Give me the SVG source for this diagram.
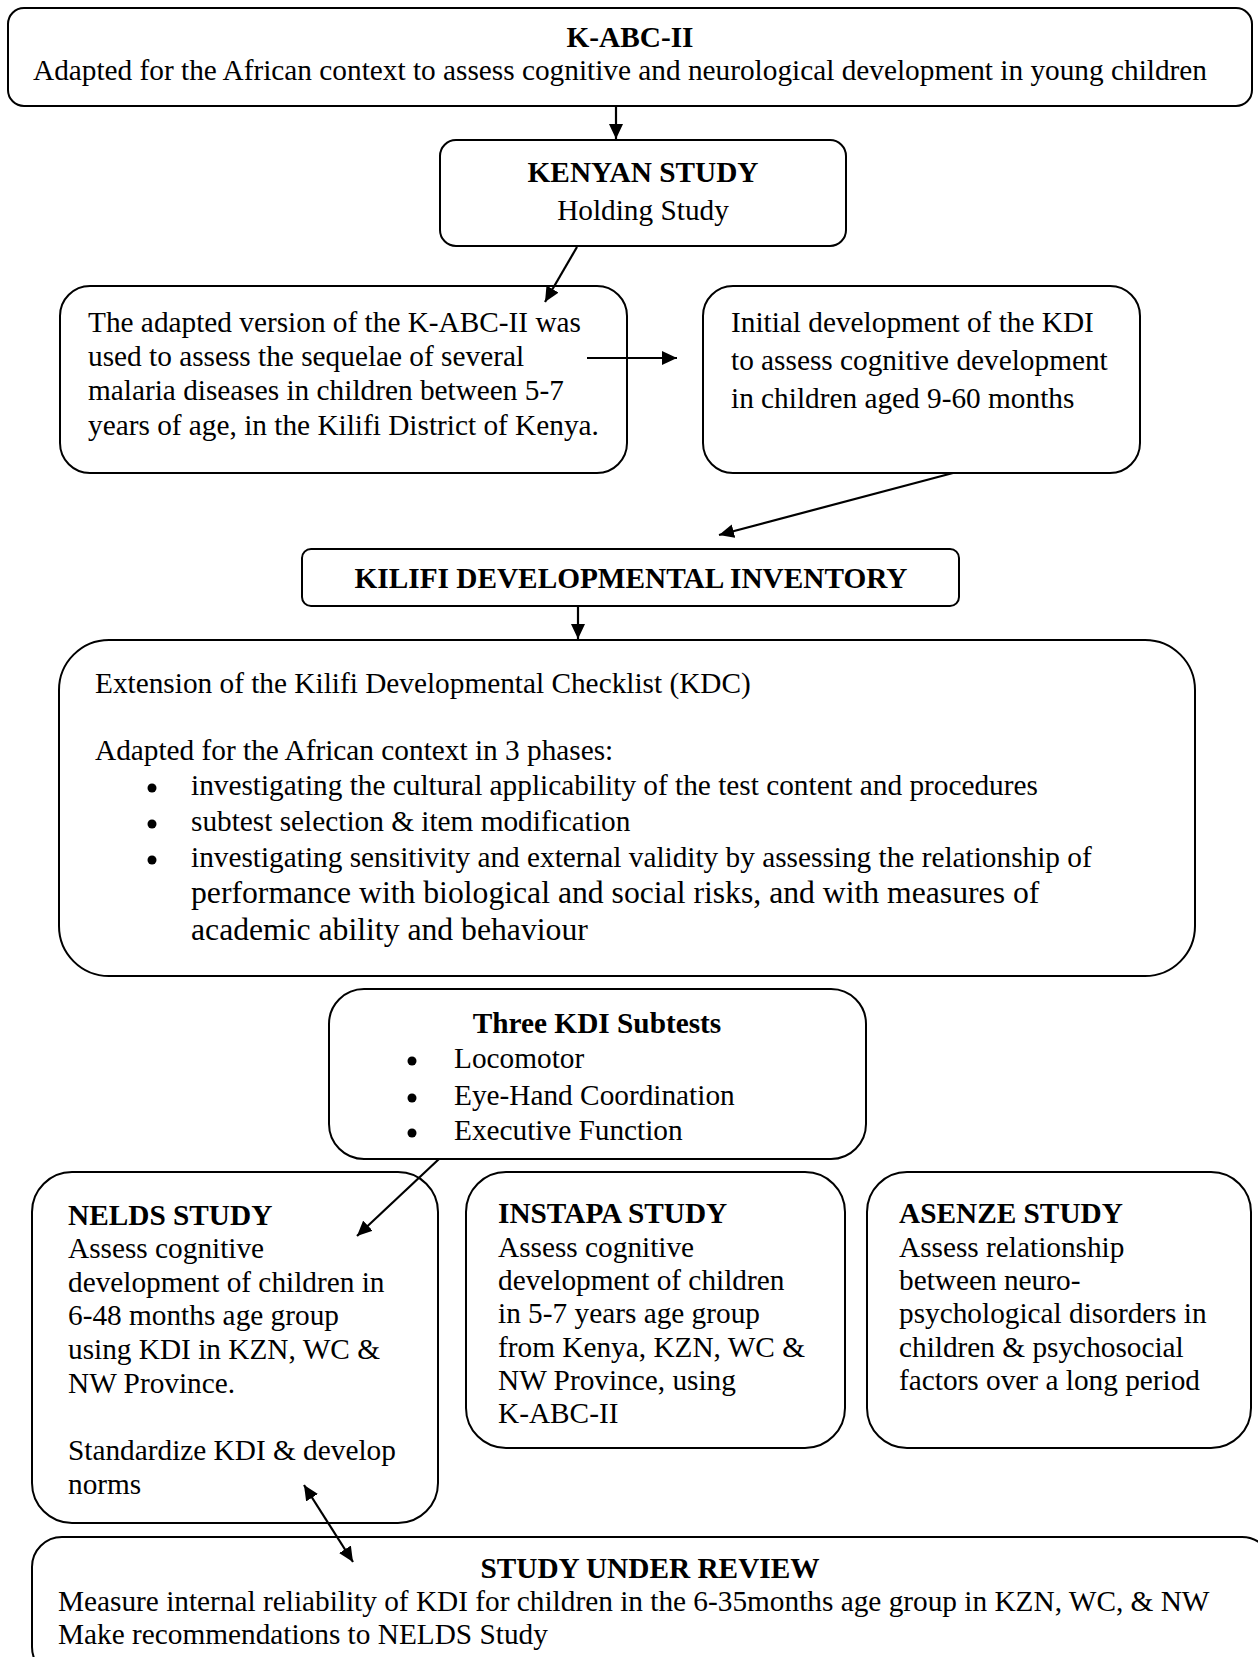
<svg xmlns="http://www.w3.org/2000/svg" width="1258" height="1657" viewBox="0 0 1258 1657">
<defs>
<style>
.box{fill:#fff;stroke:#000;stroke-width:2}
.t{font-family:"Liberation Serif","Times New Roman",serif;font-size:29.3px;fill:#000}
.b{font-weight:bold}
.c{text-anchor:middle}
.big{font-size:31.7px}
.con{stroke:#000;stroke-width:2.2;fill:none}
.dot{fill:#000}
</style>
<marker id="ah" viewBox="0 0 15 14" refX="15" refY="7" markerWidth="15" markerHeight="14" markerUnits="userSpaceOnUse" orient="auto">
<path d="M0,0 L15,7 L0,14 z" fill="#000"/>
</marker>
<marker id="as" viewBox="0 0 15 14" refX="0" refY="7" markerWidth="15" markerHeight="14" markerUnits="userSpaceOnUse" orient="auto">
<path d="M15,0 L0,7 L15,14 z" fill="#000"/>
</marker>
</defs>
<rect width="1258" height="1657" fill="#fff"/>

<g id="kabc">
<rect class="box" x="8" y="8" width="1244" height="98" rx="16"/>
<text class="t b c" x="630" y="47">K-ABC-II</text>
<text class="t" x="33" y="80">Adapted for the African context to assess cognitive and neurological development in young children</text>
</g>

<g id="kenyan">
<rect class="box" x="440" y="140" width="406" height="106" rx="16"/>
<text class="t b c" x="643" y="182">KENYAN STUDY</text>
<text class="t c" x="643" y="220">Holding Study</text>
</g>

<g id="adapted">
<rect class="box" x="60" y="286" width="567" height="187" rx="30"/>
<text class="t" x="88" y="332">The adapted version of the K-ABC-II was</text>
<text class="t" x="88" y="366">used to assess the sequelae of several</text>
<text class="t" x="88" y="400">malaria diseases in children between 5-7</text>
<text class="t" x="88" y="435">years of age, in the Kilifi District of Kenya.</text>
</g>

<g id="initial">
<rect class="box" x="703" y="286" width="437" height="187" rx="30"/>
<text class="t" x="731" y="332">Initial development of the KDI</text>
<text class="t" x="731" y="370">to assess cognitive development</text>
<text class="t" x="731" y="408">in children aged 9-60 months</text>
</g>

<g id="kdi">
<rect class="box" x="302" y="549" width="657" height="57" rx="9"/>
<text class="t b c" x="631" y="588">KILIFI DEVELOPMENTAL INVENTORY</text>
</g>

<g id="extension">
<rect class="box" x="59" y="640" width="1136" height="336" rx="50"/>
<text class="t" x="95" y="693">Extension of the Kilifi Developmental Checklist (KDC)</text>
<text class="t" x="95" y="760">Adapted for the African context in 3 phases:</text>
<circle class="dot" cx="152" cy="788" r="4.5"/>
<text class="t" x="191" y="795">investigating the cultural applicability of the test content and procedures</text>
<circle class="dot" cx="152" cy="824" r="4.5"/>
<text class="t" x="191" y="831">subtest selection &amp; item modification</text>
<circle class="dot" cx="152" cy="860" r="4.5"/>
<text class="t" x="191" y="867">investigating sensitivity and external validity by assessing the relationship of</text>
<text class="t big" x="191" y="903">performance with biological and social risks, and with measures of</text>
<text class="t big" x="191" y="940">academic ability and behaviour</text>
</g>

<g id="subtests">
<rect class="box" x="329" y="989" width="537" height="170" rx="35"/>
<text class="t b c" x="597" y="1033">Three KDI Subtests</text>
<circle class="dot" cx="412" cy="1061" r="4.5"/>
<text class="t" x="454" y="1068">Locomotor</text>
<circle class="dot" cx="412" cy="1098" r="4.5"/>
<text class="t" x="454" y="1105">Eye-Hand Coordination</text>
<circle class="dot" cx="412" cy="1133" r="4.5"/>
<text class="t" x="454" y="1140">Executive Function</text>
</g>

<g id="nelds">
<rect class="box" x="32" y="1172" width="406" height="351" rx="40"/>
<text class="t b" x="68" y="1225">NELDS STUDY</text>
<text class="t" x="68" y="1258">Assess cognitive</text>
<text class="t" x="68" y="1292">development of children in</text>
<text class="t" x="68" y="1325">6-48 months age group</text>
<text class="t" x="68" y="1359">using KDI in KZN, WC &amp;</text>
<text class="t" x="68" y="1393">NW Province.</text>
<text class="t" x="68" y="1460">Standardize KDI &amp; develop</text>
<text class="t" x="68" y="1494">norms</text>
</g>

<g id="instapa">
<rect class="box" x="466" y="1172" width="379" height="276" rx="40"/>
<text class="t b" x="498" y="1223">INSTAPA STUDY</text>
<text class="t" x="498" y="1257">Assess cognitive</text>
<text class="t" x="498" y="1290">development of children</text>
<text class="t" x="498" y="1323">in 5-7 years age group</text>
<text class="t" x="498" y="1357">from Kenya, KZN, WC &amp;</text>
<text class="t" x="498" y="1390">NW Province, using</text>
<text class="t" x="498" y="1423">K-ABC-II</text>
</g>

<g id="asenze">
<rect class="box" x="867" y="1172" width="384" height="276" rx="40"/>
<text class="t b" x="899" y="1223">ASENZE STUDY</text>
<text class="t" x="899" y="1257">Assess relationship</text>
<text class="t" x="899" y="1290">between neuro-</text>
<text class="t" x="899" y="1323">psychological disorders in</text>
<text class="t" x="899" y="1357">children &amp; psychosocial</text>
<text class="t" x="899" y="1390">factors over a long period</text>
</g>

<g id="review">
<rect class="box" x="32" y="1537" width="1240" height="140" rx="30"/>
<text class="t b c" x="650" y="1578">STUDY UNDER REVIEW</text>
<text class="t" x="58" y="1611">Measure internal reliability of KDI for children in the 6-35months age group in KZN, WC, &amp; NW</text>
<text class="t" x="58" y="1644">Make recommendations to NELDS Study</text>
</g>

<g id="connectors">
<line class="con" x1="616" y1="107" x2="616" y2="139" marker-end="url(#ah)"/>
<line class="con" x1="577" y1="247" x2="545" y2="302" marker-end="url(#ah)"/>
<line class="con" x1="587" y1="358" x2="677" y2="358" marker-end="url(#ah)"/>
<line class="con" x1="953" y1="473" x2="719" y2="535" marker-end="url(#ah)"/>
<line class="con" x1="578" y1="606" x2="578" y2="639" marker-end="url(#ah)"/>
<line class="con" x1="439" y1="1159" x2="357" y2="1236" marker-end="url(#ah)"/>
<line class="con" x1="304" y1="1485" x2="353" y2="1562" marker-start="url(#as)" marker-end="url(#ah)"/>
</g>
</svg>
